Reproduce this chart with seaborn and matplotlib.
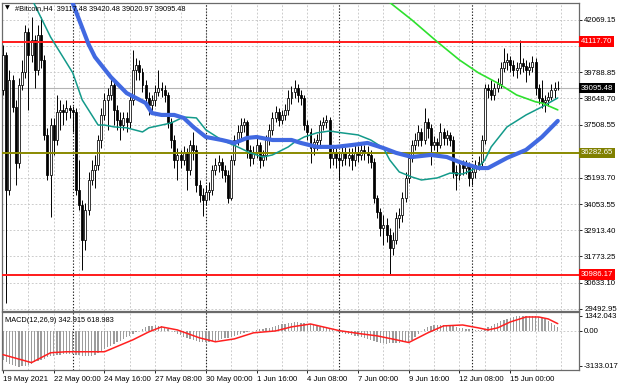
import numpy as np
import pandas as pd
import matplotlib
matplotlib.use("Agg")
import matplotlib.pyplot as plt
import seaborn as sns

# ---------------- data ----------------
first_open = 39020
closes = [40540, 34670, 39450, 38280, 35840, 39230, 39800, 41540, 40540, 41190,
          39890, 41410, 40320, 37060, 35320, 37490, 36840, 38060, 38150, 38060,
          38230, 38150, 38060, 34670, 34010, 32490, 33800, 35100, 35540, 35750,
          36840, 37930, 38580, 38800, 39230, 38150, 37710, 37490, 37800, 37620,
          38580, 39890, 40100, 39800, 39230, 38670, 38360, 38580, 38930, 39100,
          39020, 38800, 37620, 36840, 35970, 36190, 35970, 36320, 35540, 36620,
          36410, 34880, 34450, 34230, 34580, 34670, 35540, 35750, 35880, 35540,
          35320, 34320, 35970, 36840, 37190, 37490, 37620, 36410, 36060, 36320,
          36620, 35970, 36190, 36840, 37280, 37800, 38060, 37710, 37930, 38150,
          38670, 38930, 39100, 38800, 38670, 37490, 37190, 36490, 36750, 36840,
          37490, 37620, 37710, 36060, 36320, 36060, 35970, 36320, 36060, 36190,
          35970, 36320, 36190, 36410, 36270, 36190, 35880, 34320, 33710, 33010,
          33140, 32710, 32140, 32490, 33450, 33580, 34320, 35190, 36060, 36620,
          36840, 37190, 36840, 37620, 37360, 36620, 36750, 36620, 37190, 36930,
          37060, 36840, 35450, 35320, 35750, 35620, 35750, 35190, 35450, 35750,
          35880, 36840, 39100, 39020, 38800, 39100, 39280, 39970, 40230, 40320,
          40100, 39890, 39970, 40190, 40060, 39890, 40020, 40230, 39100, 38670,
          38490, 38580, 38710, 39020, 39117.48, 39095.48]
highs = [40970, 40670, 39890, 39670, 38580, 39540, 40320, 41840, 41710, 42190,
         41410, 41840, 42190, 40540, 37360, 37800, 37800, 38800, 38580, 38410,
         38580, 38360, 38320, 38230, 35970, 34230, 34100, 35450, 35970, 36190,
         37060, 38230, 38880, 39100, 39540, 39360, 38360, 38060, 38060, 38060,
         38800, 40760, 40410, 40320, 39970, 39450, 38930, 38800, 39230, 39890,
         39360, 39230, 38930, 37800, 37060, 36490, 36410, 36580, 36490, 36840,
         37190, 36620, 35100, 34750, 34880, 35010, 35750, 36060, 36190, 36060,
         35750, 35540, 36190, 37060, 37490, 37800, 37800, 37710, 36620, 36580,
         36930, 36750, 36410, 37060, 37540, 38060, 38320, 38230, 38150, 38410,
         39020, 39190, 39450, 39280, 39020, 38800, 37710, 37360, 36930, 37100,
         37710, 37840, 37930, 37840, 36580, 36490, 36320, 36580, 36540, 36490,
         36490, 36620, 36580, 36670, 36620, 36580, 36410, 36060, 34450, 33880,
         33580, 33450, 33010, 32840, 33710, 33880, 34580, 35450, 36320, 36840,
         37140, 37490, 37360, 38230, 37800, 37540, 37010, 36930, 37580, 37360,
         37280, 37190, 37010, 35750, 35970, 35970, 35970, 35880, 35710, 35970,
         36140, 37060, 39280, 39280, 39450, 39320, 39540, 40230, 40840, 40620,
         40490, 40320, 40230, 41190, 40410, 40320, 40230, 40490, 40410, 39280,
         39450, 38800, 38930, 39280, 39360, 39420.48]
lows = [38800, 29750, 34450, 38060, 34880, 35620, 39020, 39540, 38150, 40230,
        39100, 39670, 39970, 36840, 35100, 33490, 36190, 36620, 37280, 37490,
        37710, 37800, 37190, 34450, 33800, 31190, 32060, 33580, 34880, 34750,
        35540, 36490, 37710, 37280, 38580, 37490, 37280, 36840, 37280, 37190,
        37360, 38360, 39450, 39450, 38930, 38360, 37930, 38060, 38320, 38750,
        38710, 38490, 37360, 36490, 35620, 35100, 35620, 35750, 34670, 35320,
        35970, 34580, 34140, 33530, 34010, 34230, 34450, 35320, 35450, 35190,
        35010, 34100, 34230, 35750, 36620, 36930, 37190, 36060, 35710, 35800,
        36060, 35620, 35710, 35970, 36620, 37060, 37620, 37450, 37540, 37710,
        37930, 38410, 38670, 38490, 38360, 37280, 36840, 35840, 36190, 36410,
        36620, 37280, 37360, 35620, 35750, 35620, 35100, 35710, 35750, 35710,
        35540, 35710, 35880, 35970, 35970, 35840, 35620, 34100, 33450, 32660,
        32270, 32400, 31010, 31840, 32320, 33010, 33270, 34140, 34970, 35880,
        36410, 36580, 36580, 36670, 36930, 35750, 36410, 36320, 36490, 36620,
        36620, 36580, 35190, 34670, 35100, 35320, 35360, 34840, 34880, 35190,
        35540, 35710, 36670, 38670, 38580, 38580, 38930, 39100, 39800, 39890,
        39800, 39620, 39540, 39710, 39800, 39360, 39670, 39800, 38800, 38410,
        38230, 38060, 38320, 38580, 38670, 39020.97]

macd_hist = [-2600, -2800, -3000, -3100, -3200, -3220, -3200, -3150, -3050, -2950, -2850,
             -2700, -2600, -2500, -2400, -2300, -2250, -2200, -2150, -2100, -2050,
             -2050, -2100, -2150, -2200, -2250, -2300, -2300, -2250, -2150, -2000,
             -1800, -1650, -1500, -1350, -1200, -1050, -900, -750, -600, -450,
             -300, -150, 0, 150, 280, 380, 440, 460, 440, 380,
             250, 120, -20, -160, -300, -430, -550, -660, -760, -850,
             -920, -980, -1020, -1030, -1010, -970, -920, -850, -780, -700,
             -620, -540, -460, -380, -300, -220, -150, -80, -20, 40,
             100, 150, 200, 260, 320, 400, 480, 560, 620, 680,
             720, 740, 740, 720, 680, 620, 560, 500, 430, 360,
             280, 200, 120, 40, -40, -120, -200, -270, -330, -380,
             -440, -500, -580, -660, -760, -860, -950, -1040, -1100, -1140,
             -1160, -1150, -1130, -1100, -1080, -1060, -1040, -1000, -850, -600,
             -300, -50, 150, 300, 400, 460, 500, 520, 500, 460,
             420, 370, 320, 260, 200, 150, 100, 60, 30, 10,
             50, 150, 280, 420, 560, 700, 820, 930, 1030, 1120,
             1200, 1260, 1300, 1320, 1330, 1320, 1300, 1260, 1200, 1120,
             1000, 850, 700, 520, 342.915]
signal_bar = [0, 9, 15, 20, 32, 41, 46, 50, 55, 62, 67, 73, 79, 86, 91, 97, 106,
              113, 118, 124, 128, 134, 139, 145, 150, 153, 156, 160, 165, 169, 172, 175]
signal_val = [-2150, -2860, -1980, -1890, -1890, -820, -115, 330, 60, -650, -1000,
              -740, -200, -30, 330, 590, 0, -290, -470, -820, -1065, -200, 420, 500,
              240, 60, 240, 770, 1215, 1215, 1040, 618.983]

ma_blue_bar = [21, 27, 29, 34, 39, 45, 47, 50, 54, 57, 60, 64, 69, 73, 77, 80, 85, 91,
               94, 99, 105, 110, 115, 120, 124, 129, 135, 140, 144, 150, 153, 159,
               165, 170, 175]
ma_blue_val = [43150, 41000, 40450, 39580, 38880, 38450, 38010, 37930, 37930, 37800,
               37410, 36970, 36840, 36710, 36930, 36970, 36840, 36840, 36710, 36540,
               36540, 36620, 36710, 36490, 36280, 36100, 36190, 36100, 35880, 35620,
               35620, 36060, 36410, 36970, 37670]
ma_teal_bar = [8, 15, 22, 25, 30, 32, 35, 39, 44, 46, 50, 53, 57, 61, 64, 69, 74, 78,
               82, 85, 90, 92, 95, 99, 103, 107, 112, 116, 120, 122, 125, 129, 132,
               137, 141, 145, 148, 150, 152, 154, 159, 165, 170, 175]
ma_teal_val = [43280, 41320, 39760, 38580, 37490, 37490, 37410, 37370, 37190, 37370,
               37490, 37580, 37840, 37800, 37280, 36840, 36540, 36280, 36100, 36190,
               36540, 36750, 36970, 37150, 37230, 37150, 37060, 36840, 36490, 35970,
               35450, 35230, 35100, 35190, 35400, 35360, 35540, 35670, 35970, 36540,
               37410, 37930, 38280, 38670]
ma_green_bar = [119, 129, 137, 144, 150, 156, 162, 168, 170, 175]
ma_green_val = [43150, 42060, 41110, 40320, 39760, 39320, 38800, 38500, 38450, 38150]

price_ticks = [42069.15, 40929.00, 39788.85, 38648.70, 37508.55, 36333.85, 35193.70,
               34053.55, 32913.40, 31773.25, 30633.10, 29492.95]
hidden_ticks = [40929.00, 36333.85]   # labels covered by level boxes
macd_ticks = [1342.043, 0.00, -3133.017]
macd_tick_labels = ["1342.043", "0.00", "-3133.017"]
date_bars = [0, 16, 32, 48, 64, 80, 96, 112, 128, 144, 160]
date_labels = ["19 May 2021", "22 May 00:00", "24 May 16:00", "27 May 08:00",
               "30 May 00:00", "1 Jun 16:00", "4 Jun 08:00", "7 Jun 00:00",
               "9 Jun 16:00", "12 Jun 08:00", "15 Jun 00:00"]
separator_bars = [22, 64, 106, 148]
resistance = 41117.70
pivot = 36282.65
support = 30986.17
bid = 39095.48
header = "#Bitcoin,H4  39117.48 39420.48 39020.97 39095.48"
macd_title = "MACD(12,26,9) 342.915 618.983"

# ---------------- styling ----------------
sns.set_style("white")
plt.rcParams["font.family"] = ["Liberation Sans", "DejaVu Sans"]

n = len(closes)
idx = np.arange(n)
opens = [first_open] + closes[:-1]
df = pd.DataFrame({"i": idx, "open": opens, "close": closes,
                   "high": highs, "low": lows, "hist": macd_hist})

W, H = 620, 388
def rect(x0, y0, x1, y1):
    return [x0 / W, 1 - y1 / H, (x1 - x0) / W, (y1 - y0) / H]

fig = plt.figure(figsize=(6.2, 3.88), dpi=100)
ax = fig.add_axes(rect(2, 3, 579, 311))
ax2 = fig.add_axes(rect(2, 312, 579, 370))

xl = (-0.32, -0.32 + 577 / 3.17)
grid_kw = dict(color="#c4c4c4", lw=0.6, ls=(0, (2.2, 2.2)), zorder=0)
sep_kw = dict(color="#222222", lw=0.8, ls=(0, (1.2, 1.6)), zorder=1)

for a in (ax, ax2):
    a.set_xlim(*xl)
    for g in range(8, 184, 8):
        a.axvline(g, **grid_kw)
    for s in separator_bars:
        a.axvline(s, **sep_kw)
    for sp in a.spines.values():
        sp.set_color("#6a6a6a")
        sp.set_linewidth(0.9)

# ---- main price panel ----
ax.set_ylim(29400, 42800)
for t in price_ticks:
    ax.axhline(t, **grid_kw)
ax.axhline(bid, color="#b4b4b4", lw=0.8, zorder=1)

ax.vlines(df["i"], df["low"], df["high"], color="black", lw=0.7, zorder=3)
bull = df["close"] >= df["open"]
ax.bar(df["i"][bull], (df["close"] - df["open"])[bull], bottom=df["open"][bull],
       width=0.62, color="white", edgecolor="black", linewidth=0.55, zorder=4)
ax.bar(df["i"][~bull], (df["open"] - df["close"])[~bull], bottom=df["close"][~bull],
       width=0.62, color="black", edgecolor="black", linewidth=0.55, zorder=4)

ax.axhline(resistance, color="#ff1a1a", lw=1.4, zorder=4.5)
ax.axhline(pivot, color="#8a8a00", lw=1.4, zorder=4.5)
ax.axhline(support, color="#ff1a1a", lw=1.4, zorder=4.5)

sns.lineplot(x=ma_teal_bar, y=ma_teal_val, ax=ax, color="#139a8a", lw=1.1,
             zorder=5, legend=False)
sns.lineplot(x=ma_green_bar, y=ma_green_val, ax=ax, color="#2ee02e", lw=1.2,
             zorder=5, legend=False)
sns.lineplot(x=ma_blue_bar, y=ma_blue_val, ax=ax, color="#4169e1", lw=3.0,
             zorder=6, legend=False)
ax.set_xlim(*xl)
ax.set_ylim(29400, 42800)

ax.yaxis.tick_right()
ax.set_yticks(price_ticks)
ax.set_yticklabels(["" if t in hidden_ticks else f"{t:.2f}" for t in price_ticks])
ax.tick_params(axis="y", length=2.5, width=0.6, pad=1.2, labelsize=5.6,
               colors="black", direction="out", right=True, left=False)
ax.set_xticks([])
ax.set_xlabel("")
ax.set_ylabel("")

ytr = ax.get_yaxis_transform()
box_kw = dict(transform=ytr, ha="left", va="center", fontsize=5.6, color="white",
              zorder=20, clip_on=False)
ax.text(1.003, resistance, f"{resistance:.2f}",
        bbox=dict(boxstyle="square,pad=0.22", fc="#ff0000", ec="none"), **box_kw)
ax.text(1.003, support, f"{support:.2f}",
        bbox=dict(boxstyle="square,pad=0.22", fc="#ff0000", ec="none"), **box_kw)
ax.text(1.003, pivot, f"{pivot:.2f}",
        bbox=dict(boxstyle="square,pad=0.22", fc="#808000", ec="none"), **box_kw)
ax.text(1.003, bid, f"{bid:.2f}",
        bbox=dict(boxstyle="square,pad=0.22", fc="#000000", ec="none"), **box_kw)

ax.text(0.006, 0.983, "\u25bc", transform=ax.transAxes, ha="left", va="center",
        fontsize=4.5, color="black", zorder=20, family=["DejaVu Sans"])
ax.text(0.022, 0.983, header, transform=ax.transAxes, ha="left", va="center",
        fontsize=5.3, color="black", zorder=20)

# ---- MACD panel ----
ax2.set_ylim(-3520, 1660)
ax2.axhline(0, **grid_kw)
ax2.bar(df["i"], df["hist"], width=0.42, color="#9c9c9c", linewidth=0,
        antialiased=False, zorder=2)
sns.lineplot(x=signal_bar, y=signal_val, ax=ax2, color="#ff2020", lw=1.1,
             zorder=4, legend=False)
ax2.set_xlim(*xl)
ax2.set_ylim(-3520, 1660)
ax2.yaxis.tick_right()
ax2.set_yticks(macd_ticks)
ax2.set_yticklabels(macd_tick_labels)
ax2.tick_params(axis="y", length=2.5, width=0.6, pad=1.2, labelsize=5.6,
                colors="black", direction="out", right=True, left=False)
ax2.set_xticks(date_bars)
ax2.set_xticklabels(date_labels, ha="left")
ax2.tick_params(axis="x", length=2.5, width=0.6, pad=2.0, labelsize=5.6,
                colors="black", direction="out", bottom=True)
ax2.set_xlabel("")
ax2.set_ylabel("")
ax2.text(0.006, 0.86, macd_title, transform=ax2.transAxes, ha="left", va="center",
         fontsize=5.3, color="black", zorder=20)

fig.savefig("out.png", dpi=100, facecolor="white")
